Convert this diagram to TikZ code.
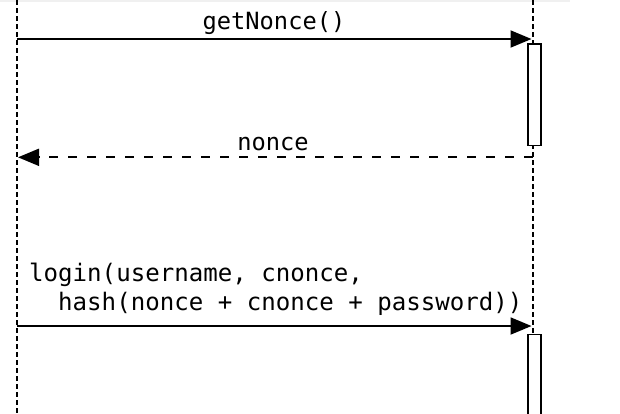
\documentclass[tikz,border=0pt]{standalone}
\usepackage{fontspec}
\setmonofont{DejaVu Sans Mono}
\usetikzlibrary{arrows.meta}

\begin{document}
\begin{tikzpicture}
    [ x=1pt, y=-1pt
    , lifeline/.style={line width=2pt, dash pattern=on 4.5pt off 3.5pt}
    , call/.style={line width=1.9pt, -{Triangle[length=21pt, width=17pt]}}
    , reply/.style={call, dash pattern=on 9pt off 10pt}
    , activation/.style={draw, line width=1.9pt, fill=white, minimum width=13pt, inner sep=0pt}
    , msg/.style={font=\fontsize{23.7}{28.3}\selectfont\ttfamily, inner sep=0pt}
    , longmsg/.style={msg, font=\fontsize{24.1}{28.3}\selectfont\ttfamily}
    ]
\useasboundingbox (0,0) rectangle (620,413);
\clip (0,0) rectangle (620,413);
\fill[black!6] (0,0) rectangle (570,2.2);

% lifelines
\coordinate (clientTop) at (16.5,0);
\coordinate (clientBot) at (16.5,413);
\coordinate (serverTop) at (532.7,0);
\coordinate (serverBot) at (532.7,413);
\draw[lifeline] (clientTop) -- (clientBot);
\draw[lifeline] (serverTop) -- (serverBot);

% activations on the server
\node[activation, minimum height=101.5pt] (actNonce) at (534.3,94.75) {};
\node[activation, minimum height=100pt, anchor=north] (actLogin) at (534.3,333.5) {};

% getNonce()
\coordinate (getFrom) at (16.5,39);
\coordinate (getTo) at (531.5,39);
\draw[call] (getFrom) -- (getTo);
\node[msg, anchor=base] (getLabel) at (274,29.3) {getNonce()};

% nonce
\coordinate (nonceFrom) at (532.7,157.3);
\coordinate (nonceTo) at (18,157.3);
\draw[reply] (nonceFrom) -- (nonceTo);
\node[msg, anchor=base] (nonceLabel) at (273,150.7) {nonce};

% login(...)
\coordinate (loginFrom) at (16.5,326);
\coordinate (loginTo) at (531.5,326);
\draw[call] (loginFrom) -- (loginTo);
\node[longmsg, anchor=base west] (loginLabel) at (29,281.7) {login(username, cnonce,};
\node[longmsg, anchor=base west] (hashLabel) at (29,310) {\hphantom{xx}hash(nonce + cnonce + password))};

\end{tikzpicture}
\end{document}
